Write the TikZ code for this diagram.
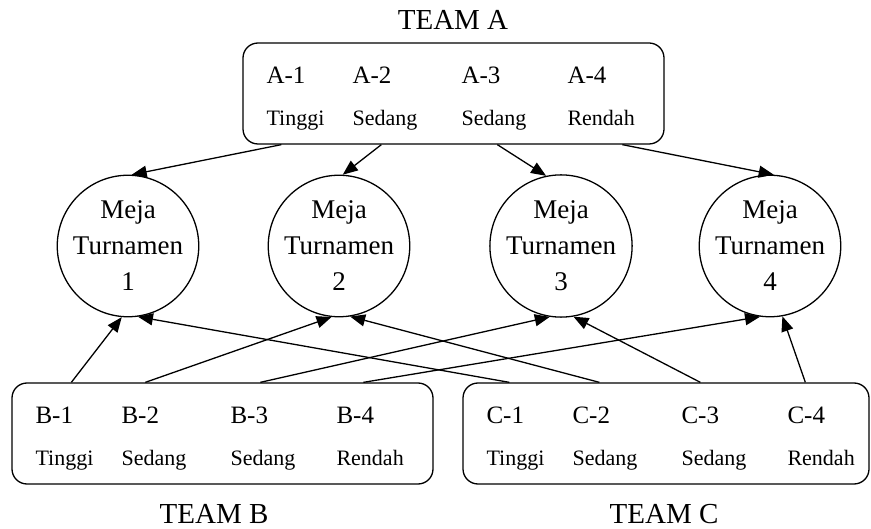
\documentclass[tikz,border=0pt]{standalone}
\usepackage{fontspec}
\setmainfont{Liberation Serif}
\usetikzlibrary{arrows.meta}
\usetikzlibrary{positioning}

\begin{document}
\begin{tikzpicture}[x=1pt,y=-1pt]
\tikzset{teambox/.style={rectangle,draw,rounded corners=15pt,line width=1.3pt,minimum height=101pt,inner sep=0pt},
meja/.style={circle,draw,line width=1.3pt,minimum size=139pt,inner sep=0pt,align=center,font=\fontsize{27}{36}\selectfont},
kode/.style={anchor=base west,inner sep=0pt,font=\fontsize{25}{25}\selectfont},
level/.style={anchor=base west,inner sep=0pt,font=\fontsize{22}{22}\selectfont},
judul/.style={anchor=base,inner sep=0pt,font=\fontsize{29}{29}\selectfont},
panah/.style={line width=1.3pt,-{Triangle[length=15pt,width=12pt]}}}
\useasboundingbox (0,0) rectangle (871,529);
\node[teambox,minimum width=421pt](ta) at (453.5,93.5){};
\node[teambox,minimum width=421pt](tb) at (222.5,433.5){};
\node[teambox,minimum width=406pt](tc) at (666,433.5){};
\node[judul](judula) at (453,30){TEAM A};
\node[judul](judulb) at (214,523){TEAM B};
\node[judul](judulc) at (664,523){TEAM C};
\foreach \t/\T in {ta/A,tb/B,tc/C}
  \foreach \dx/\i/\lv in {24/1/Tinggi,110/2/Sedang,219/3/Sedang,325/4/Rendah}{
    \node[kode](\t\i) at ([shift={(\dx,41)}]\t.north west){\T-\i};
    \node[level](\t l\i) at ([shift={(\dx,83)}]\t.north west){\lv};
  }
\foreach \i/\x in {1/128,2/339,3/561,4/770}
  \node[meja](m\i) at (\x,246){Meja\\Turnamen\\\i};
\foreach \i/\dx/\ang in {1/39/87,2/139/87,3/255/102,4/380/87}
  \draw[panah]([xshift=\dx]ta.south west) -- (m\i.\ang);
\foreach \i/\db/\ab/\dc/\ac in {1/60/265/47/278,2/134/264/137/279,3/249/261/238/280,4/352/262/343/280}{
  \draw[panah]([xshift=\db]tb.north west) -- (m\i.\ab);
  \draw[panah]([xshift=\dc]tc.north west) -- (m\i.\ac);
}
\end{tikzpicture}
\end{document}
